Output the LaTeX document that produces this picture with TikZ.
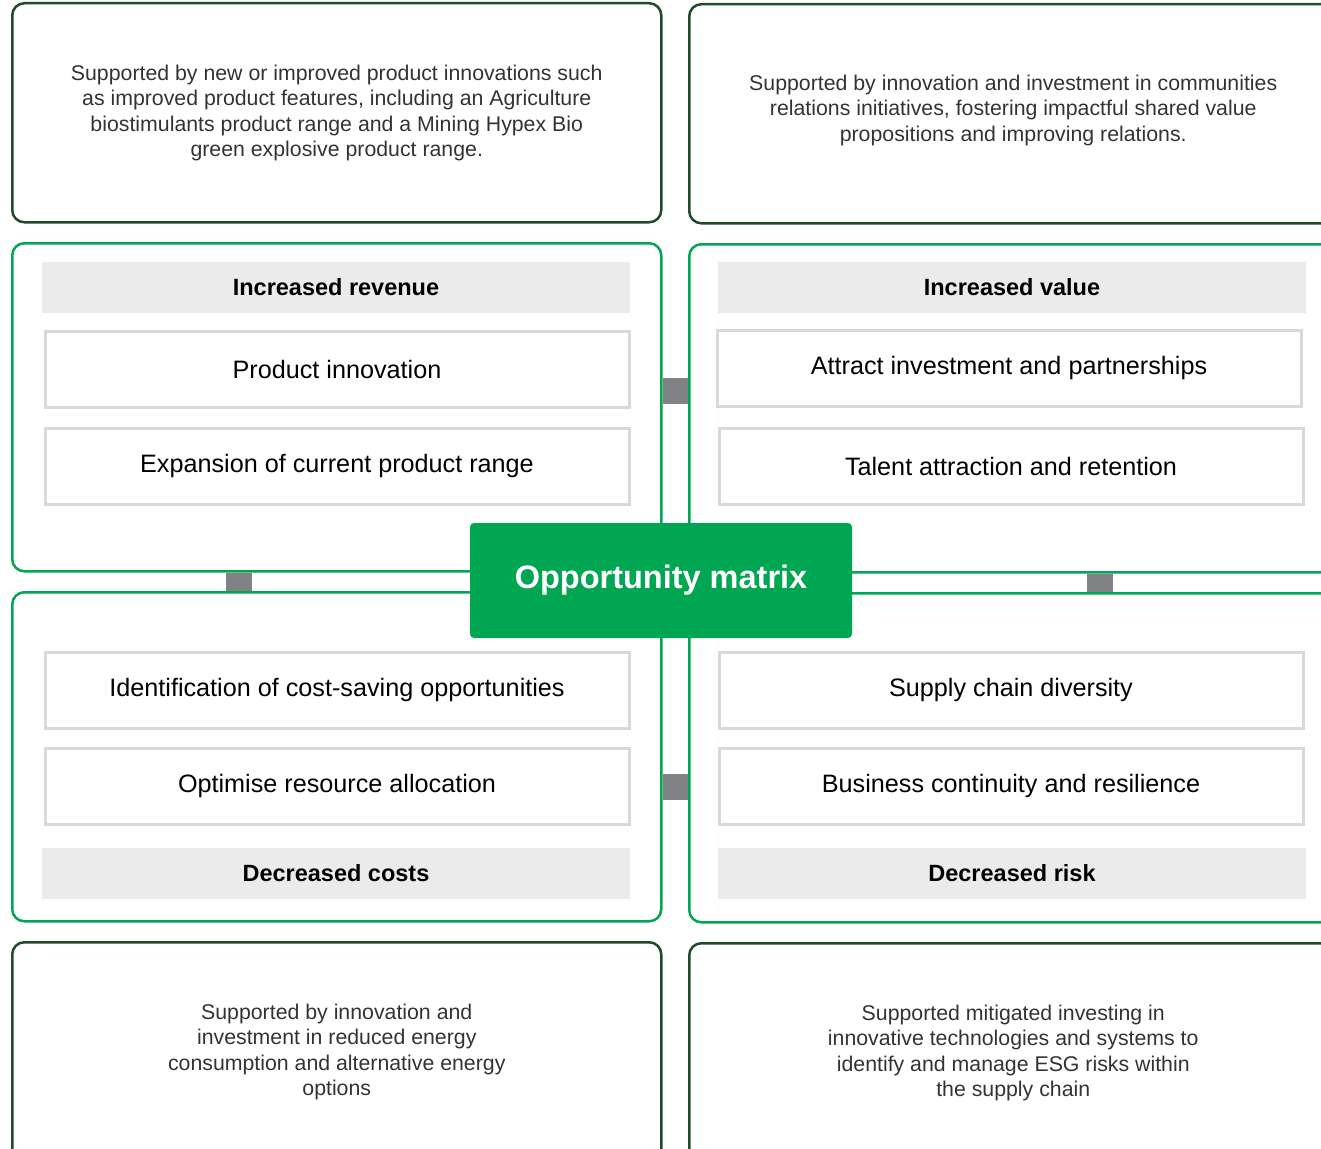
\documentclass[tikz,border=0pt]{standalone}
\usepackage{fontspec}
\setmainfont{Liberation Sans}
\usetikzlibrary{positioning}
\usepackage{xcolor}
\definecolor{omGreen}{HTML}{00A651}
\definecolor{omDark}{HTML}{1F4A2C}
\definecolor{omGrey}{HTML}{808285}
\definecolor{omBar}{HTML}{EBEBEB}
\definecolor{omLine}{HTML}{D9D9D9}

\begin{document}
\begin{tikzpicture}[x=1pt, y=-1pt,
  descbox/.style={rectangle, rounded corners=12pt, draw=omDark, line width=2.5pt,
    anchor=north west, minimum height=219pt, align=center, text=black!80,
    font=\fontsize{21.3}{25.5}\selectfont},
  quadbox/.style={rectangle, rounded corners=12pt, draw=omGreen, line width=2.5pt,
    anchor=north west, minimum height=328pt},
  headbar/.style={rectangle, fill=omBar, minimum width=588pt, minimum height=51pt,
    text depth=0pt, font=\fontsize{23.5}{27}\selectfont\bfseries},
  itembox/.style={rectangle, draw=omLine, line width=3pt, minimum width=584pt,
    minimum height=76pt, font=\fontsize{25.2}{29}\selectfont},
  linkbar/.style={line width=26pt, color=omGrey}]
  \useasboundingbox (0,0) rectangle (1321,1148);
  \clip (0,0) rectangle (1321,1148);
  % description boxes
  \node[descbox, minimum width=649pt] (d1) at (11,2)
    {Supported by new or improved product innovations such\\
     as improved product features, including an Agriculture\\
     biostimulants product range and a Mining Hypex Bio\\
     green explosive product range.};
  \node[descbox, minimum width=648pt, text depth=11pt] (d2) at (688,3)
    {Supported by innovation and investment in communities\\
     relations initiatives, fostering impactful shared value\\
     propositions and improving relations.};
  \node[descbox, minimum width=649pt] (d3) at (11,941)
    {Supported by innovation and\\
     investment in reduced energy\\
     consumption and alternative energy\\
     options};
  \node[descbox, minimum width=648pt] (d4) at (688,942)
    {Supported mitigated investing in\\
     innovative technologies and systems to\\
     identify and manage ESG risks within\\
     the supply chain};
  % quadrants
  \node[quadbox, minimum width=649pt] (g1) at (11,242) {};
  \node[quadbox, minimum width=648pt] (g2) at (688,243) {};
  \node[quadbox, minimum width=649pt, minimum height=329pt] (g3) at (11,591) {};
  \node[quadbox, minimum width=648pt, minimum height=329pt] (g4) at (688,592) {};
  % links between quadrants
  \draw[linkbar] ([yshift=16pt]g1.east) -- ([yshift=16pt]g1.east -| g2.west);
  \draw[linkbar] ([yshift=-30pt]g3.east) -- ([yshift=-30pt]g3.east -| g4.west);
  \draw[linkbar] ([xshift=228pt]g1.south west) -- ([xshift=228pt]g3.north west);
  \draw[linkbar] ([xshift=412pt]g2.south west) -- ([xshift=412pt]g4.north west);
  % top left
  \node[headbar] (h1) at (336,287) {Increased revenue};
  \node[itembox] (i1) at (337,369) {Product innovation};
  \node[itembox] (i2) at (337,466) {Expansion of current product range};
  % top right
  \node[headbar] (h2) at (1012,287) {Increased value};
  \node[itembox] (i3) at (1009,368) {Attract investment and partnerships};
  \node[itembox] (i4) at (1011,466) {Talent attraction and retention};
  % bottom left
  \node[itembox] (i5) at (337,690) {Identification of cost-saving opportunities};
  \node[itembox] (i6) at (337,786) {Optimise resource allocation};
  \node[headbar] (h3) at (336,873) {Decreased costs};
  % bottom right
  \node[itembox] (i7) at (1011,690) {Supply chain diversity};
  \node[itembox] (i8) at (1011,786) {Business continuity and resilience};
  \node[headbar] (h4) at (1012,873) {Decreased risk};
  % centre
  \node[rectangle, rounded corners=4pt, fill=omGreen, minimum width=382pt,
    minimum height=115pt, text=white, font=\fontsize{32.5}{36}\selectfont\bfseries]
    (om) at (661,580.5) {Opportunity matrix};
\end{tikzpicture}
\end{document}
